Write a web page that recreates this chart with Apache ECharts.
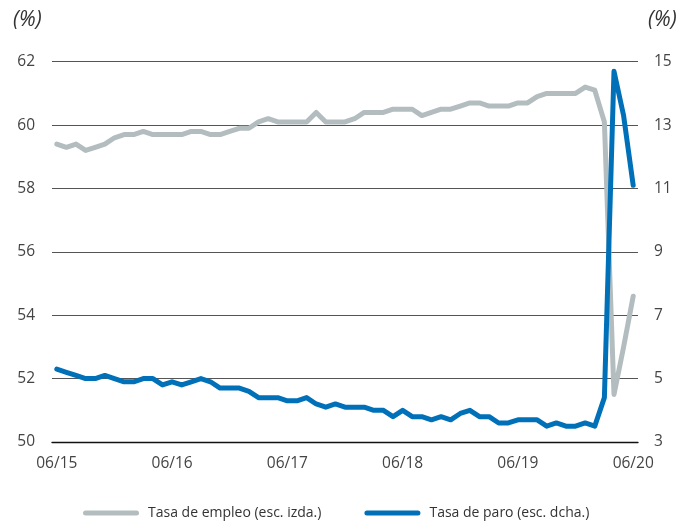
<!DOCTYPE html>
<html>
<head>
<meta charset="utf-8">
<script src="https://cdn.jsdelivr.net/npm/echarts@6/dist/echarts.min.js"></script>
<style>html,body{margin:0;padding:0;background:#fff}#c{width:696px;height:523px}</style>
</head>
<body>
<div id="c"></div>
<script>
var months = ['06/15','07/15','08/15','09/15','10/15','11/15','12/15','01/16','02/16','03/16','04/16','05/16',
  '06/16','07/16','08/16','09/16','10/16','11/16','12/16','01/17','02/17','03/17','04/17','05/17',
  '06/17','07/17','08/17','09/17','10/17','11/17','12/17','01/18','02/18','03/18','04/18','05/18',
  '06/18','07/18','08/18','09/18','10/18','11/18','12/18','01/19','02/19','03/19','04/19','05/19',
  '06/19','07/19','08/19','09/19','10/19','11/19','12/19','01/20','02/20','03/20','04/20','05/20',
  '06/20'];
var employment = [59.4,59.3,59.4,59.2,59.3,59.4,59.6,59.7,59.7,59.8,59.7,59.7,
  59.7,59.7,59.8,59.8,59.7,59.7,59.8,59.9,59.9,60.1,60.2,60.1,
  60.1,60.1,60.1,60.4,60.1,60.1,60.1,60.2,60.4,60.4,60.4,60.5,
  60.5,60.5,60.3,60.4,60.5,60.5,60.6,60.7,60.7,60.6,60.6,60.6,
  60.7,60.7,60.9,61.0,61.0,61.0,61.0,61.2,61.1,60.1,51.5,53.0,
  54.6];
var unemployment = [5.3,5.2,5.1,5.0,5.0,5.1,5.0,4.9,4.9,5.0,5.0,4.8,
  4.9,4.8,4.9,5.0,4.9,4.7,4.7,4.7,4.6,4.4,4.4,4.4,
  4.3,4.3,4.4,4.2,4.1,4.2,4.1,4.1,4.1,4.0,4.0,3.8,
  4.0,3.8,3.8,3.7,3.8,3.7,3.9,4.0,3.8,3.8,3.6,3.6,
  3.7,3.7,3.7,3.5,3.6,3.5,3.5,3.6,3.5,4.4,14.7,13.3,
  11.1];
var leftTicks = {min: 50, max: 62, interval: 2};
var rightTicks = {min: 3, max: 15, interval: 2};
var seriesNames = ['Tasa de empleo (esc. izda.)', 'Tasa de paro (esc. dcha.)'];
var colors = ['#b3bdc0', '#0071b9'];

var font = '"Open Sans", "Noto Sans", sans-serif';
var capsule = 'path://M2.5,0 L53.5,0 A2.5,2.5 0 0 1 53.5,5 L2.5,5 A2.5,2.5 0 0 1 2.5,0 Z';
var chart = echarts.init(document.getElementById('c'), null, {renderer: 'canvas'});
chart.setOption({
  animation: false,
  color: colors,
  grid: {left: 52, right: 58, top: 61.7, bottom: 81},
  graphic: [
    {type: 'text', left: 13, top: 10, style: {text: '(%)', font: 'italic 21px ' + font, fill: '#333'}},
    {type: 'text', left: 648, top: 10, style: {text: '(%)', font: 'italic 21px ' + font, fill: '#333'}}
  ],
  legend: {
    left: 78, top: 501,
    itemWidth: 56, itemHeight: 5, itemGap: 43,
    icon: capsule,
    textStyle: {fontFamily: font, fontSize: 14, color: '#333', padding: [0, 0, 0, 4]},
    data: seriesNames
  },
  xAxis: {
    type: 'category',
    data: months,
    boundaryGap: true,
    axisLine: {lineStyle: {color: '#111', width: 1.3}},
    axisTick: {inside: true, length: 6, interval: 11, lineStyle: {color: '#111', width: 1.2}},
    axisLabel: {interval: 11, margin: 14, fontFamily: font, fontSize: 15.5, color: '#444'},
    splitLine: {show: false}
  },
  yAxis: [
    {
      type: 'value', min: leftTicks.min, max: leftTicks.max, interval: leftTicks.interval,
      axisLine: {show: false}, axisTick: {show: false},
      axisLabel: {margin: 17, fontFamily: font, fontSize: 15.5, color: '#444'},
      splitLine: {lineStyle: {color: '#555', width: 1}}
    },
    {
      type: 'value', min: rightTicks.min, max: rightTicks.max, interval: rightTicks.interval,
      position: 'right',
      axisLine: {show: false}, axisTick: {show: false},
      axisLabel: {margin: 16, fontFamily: font, fontSize: 15.5, color: '#444'},
      splitLine: {show: false}
    }
  ],
  series: [
    {
      name: seriesNames[0], type: 'line', yAxisIndex: 0, data: employment,
      showSymbol: false, symbol: 'none',
      lineStyle: {width: 5, color: colors[0], cap: 'round', join: 'round'},
      itemStyle: {color: colors[0]}
    },
    {
      name: seriesNames[1], type: 'line', yAxisIndex: 1, data: unemployment,
      showSymbol: false, symbol: 'none',
      lineStyle: {width: 5, color: colors[1], cap: 'round', join: 'round'},
      itemStyle: {color: colors[1]}
    }
  ]
});
</script>
</body>
</html>
